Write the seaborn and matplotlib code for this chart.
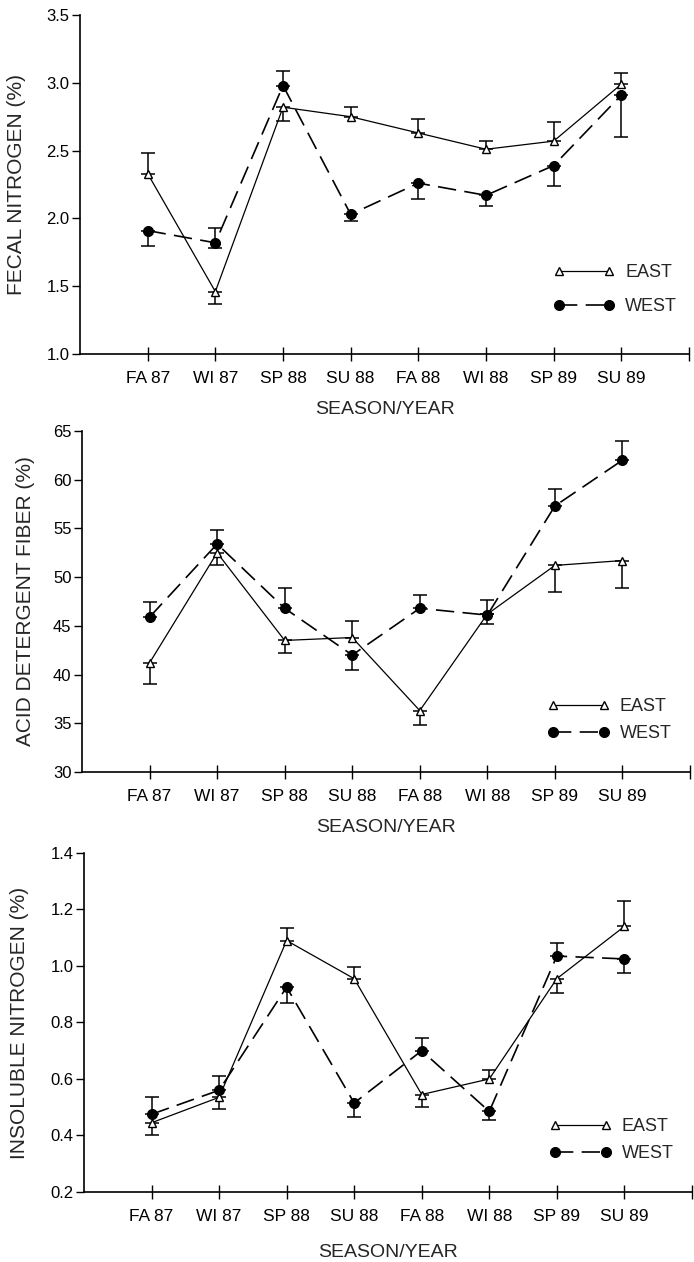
import matplotlib
matplotlib.use("Agg")
import matplotlib.pyplot as plt
import seaborn as sns

# Season labels on the x axis
seasons = ["FA 87", "WI 87", "SP 88", "SU 88", "FA 88", "WI 88", "SP 89", "SU 89"]

# Fecal nitrogen (%)
fn_east = [2.33, 1.46, 2.82, 2.75, 2.63, 2.51, 2.57, 2.99]
fn_east_lo = [0, 0.09, 0.10, 0, 0, 0, 0, 0]
fn_east_hi = [0.15, 0, 0, 0.07, 0.10, 0.06, 0.14, 0.08]
fn_west = [1.91, 1.82, 2.98, 2.03, 2.26, 2.17, 2.39, 2.91]
fn_west_lo = [0.11, 0.04, 0, 0.05, 0.12, 0.08, 0.15, 0.31]
fn_west_hi = [0, 0.11, 0.11, 0, 0, 0, 0, 0]

# Acid detergent fiber (%)
adf_east = [41.2, 52.5, 43.5, 43.8, 36.3, 46.2, 51.2, 51.7]
adf_east_lo = [2.2, 1.3, 1.3, 0, 1.5, 0, 2.7, 2.8]
adf_east_hi = [0, 0, 0, 1.7, 0, 0, 0, 0]
adf_west = [45.9, 53.4, 46.8, 42.0, 46.8, 46.1, 57.3, 62.0]
adf_west_lo = [0, 0, 0, 1.5, 0, 0.9, 0, 0]
adf_west_hi = [1.5, 1.4, 2.1, 0, 1.4, 1.5, 1.7, 2.0]

# Insoluble nitrogen (%)
in_east = [0.445, 0.535, 1.09, 0.955, 0.545, 0.60, 0.955, 1.14]
in_east_lo = [0.045, 0.04, 0, 0, 0.045, 0, 0.05, 0]
in_east_hi = [0, 0, 0.045, 0.04, 0, 0.03, 0, 0.09]
in_west = [0.475, 0.56, 0.925, 0.515, 0.70, 0.485, 1.035, 1.025]
in_west_lo = [0, 0, 0.055, 0.05, 0, 0.03, 0, 0.05]
in_west_hi = [0.06, 0.05, 0, 0, 0.045, 0, 0.045, 0]

panels = [
    dict(ylabel="FECAL NITROGEN (%)", ylim=(1.0, 3.5), step=0.5, fmt="{:.1f}",
         east=(fn_east, fn_east_lo, fn_east_hi), west=(fn_west, fn_west_lo, fn_west_hi),
         box=[0.1153, 0.7195, 0.8775, 0.2686], ylab_x=-0.088, xlab_y=-0.138,
         leg=(0.777, 0.114), spacing=0.95),
    dict(ylabel="ACID DETERGENT FIBER (%)", ylim=(30, 65), step=5, fmt="{:.0f}",
         east=(adf_east, adf_east_lo, adf_east_hi), west=(adf_west, adf_west_lo, adf_west_hi),
         box=[0.1182, 0.3883, 0.876, 0.2702], ylab_x=-0.077, xlab_y=-0.138,
         leg=(0.766, 0.087), spacing=0.58),
    dict(ylabel="INSOLUBLE NITROGEN (%)", ylim=(0.2, 1.4), step=0.2, fmt="{:.1f}",
         east=(in_east, in_east_lo, in_east_hi), west=(in_west, in_west_lo, in_west_hi),
         box=[0.121, 0.0555, 0.876, 0.2686], ylab_x=-0.09, xlab_y=-0.155,
         leg=(0.766, 0.087), spacing=0.58),
]

sns.set_style("ticks")
plt.rcParams['font.family'] = ['Liberation Sans', 'DejaVu Sans']

fig = plt.figure(figsize=(6.94, 12.62), dpi=100)
pos = list(range(1, len(seasons) + 1))

for p in panels:
    ax = fig.add_axes(p["box"])
    e_vals, e_lo, e_hi = p["east"]
    w_vals, w_lo, w_hi = p["west"]

    # one-sided SE bars, drawn under the markers
    ax.errorbar(pos, e_vals, yerr=[e_lo, e_hi], fmt="none", ecolor="black",
                elinewidth=1.1, capsize=5, capthick=1.1, zorder=1)
    ax.errorbar(pos, w_vals, yerr=[w_lo, w_hi], fmt="none", ecolor="black",
                elinewidth=1.1, capsize=5, capthick=1.1, zorder=1)

    sns.lineplot(x=pos, y=e_vals, ax=ax, color="black", lw=0.9, marker="^",
                 markersize=6.2, markerfacecolor="white", markeredgecolor="black",
                 markeredgewidth=1.0, label="EAST", zorder=3)
    sns.lineplot(x=pos, y=w_vals, ax=ax, color="black", lw=1.2, marker="o",
                 markersize=7.2, markerfacecolor="black", markeredgecolor="black",
                 dashes=(11, 5), label="WEST", zorder=3)

    lo, hi = p["ylim"]
    ax.set_xlim(0, len(seasons) + 1)
    ax.set_ylim(lo, hi)
    n = int(round((hi - lo) / p["step"]))
    yt = [lo + i * p["step"] for i in range(n + 1)]
    ax.set_yticks(yt)
    ax.set_yticklabels([p["fmt"].format(v) for v in yt])
    ax.set_xticks(pos + [len(seasons) + 1])
    ax.set_xticklabels(seasons + [""])

    sns.despine(ax=ax)
    for s in ("left", "bottom"):
        ax.spines[s].set_linewidth(1.2)
        ax.spines[s].set_color("black")
    ax.tick_params(axis="x", direction="inout", length=10, width=1.0,
                   pad=7, labelsize=12.5, colors="black")
    ax.tick_params(axis="y", direction="out", length=6, width=1.0,
                   pad=1.5, labelsize=12, colors="black")

    ax.set_ylabel(p["ylabel"], fontsize=15)
    ax.yaxis.set_label_coords(p["ylab_x"], 0.5)
    ax.set_xlabel("SEASON/YEAR", fontsize=14)
    ax.xaxis.set_label_coords(0.5, p["xlab_y"])
    ax.xaxis.label.set_va("top")

    handles, labels = ax.get_legend_handles_labels()
    ax.legend(handles, labels, loc="lower left", bbox_to_anchor=p["leg"],
              frameon=False, numpoints=2, handlelength=3.4, handletextpad=0.6,
              labelspacing=p["spacing"], borderpad=0, borderaxespad=0,
              fontsize=13)

fig.savefig("out.png", dpi=100)
